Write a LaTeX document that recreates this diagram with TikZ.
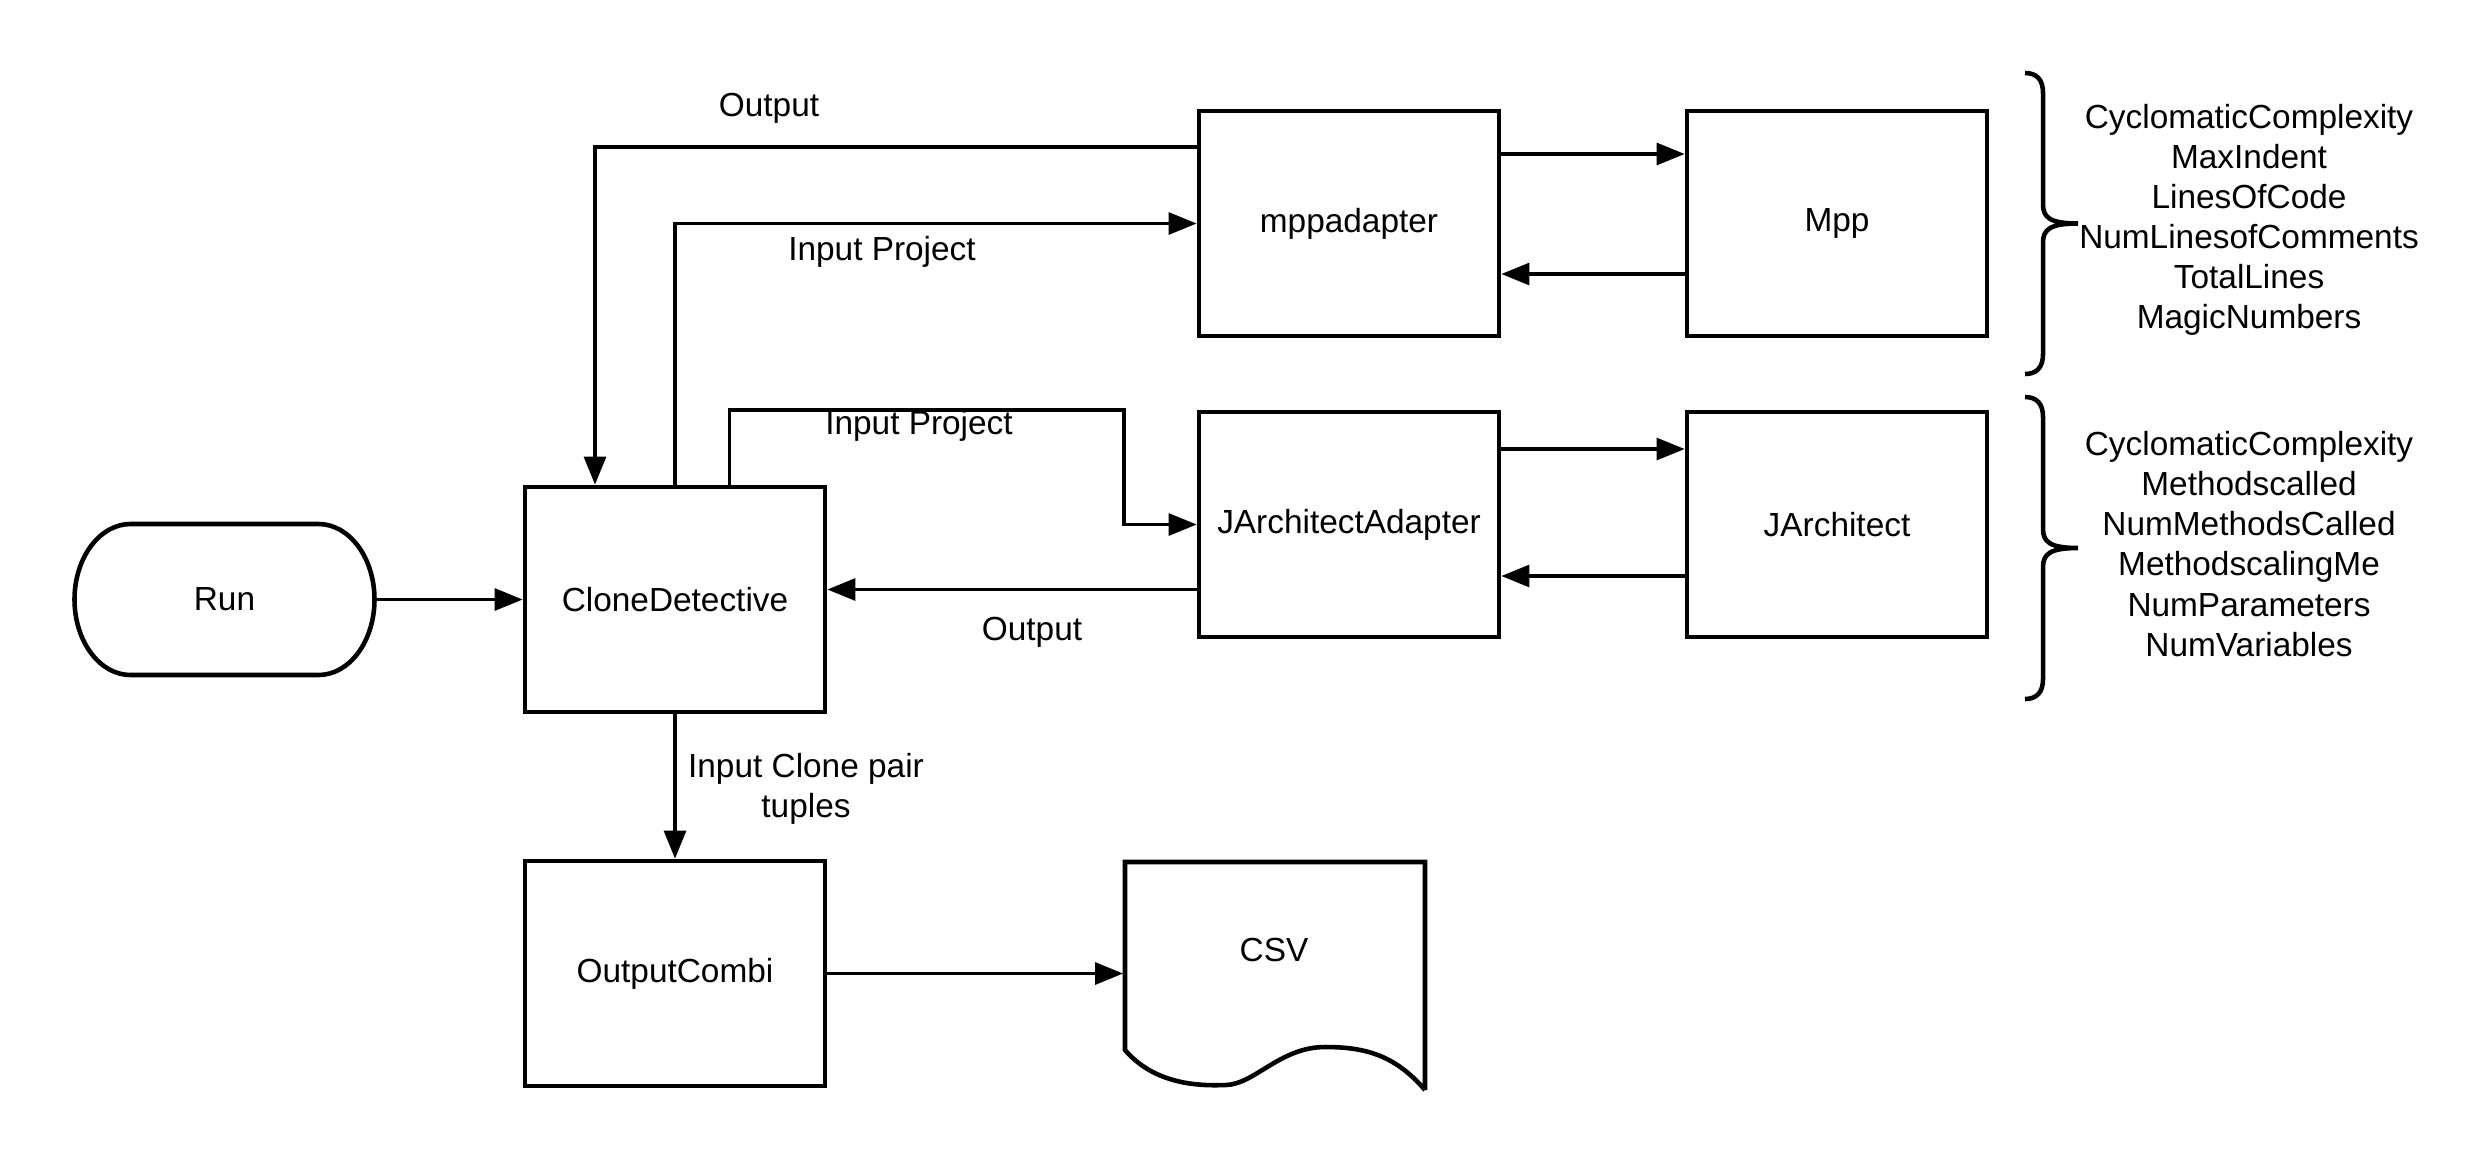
\documentclass[tikz,border=0pt]{standalone}
\usepackage{fontspec}
\setmainfont{Liberation Sans}
\usetikzlibrary{arrows.meta}

\begin{document}
\begin{tikzpicture}[line width=1.05pt,every node/.style={inner sep=2pt,font=\fontsize{9.5}{11.4}\selectfont},
    >={Triangle[length=8pt,width=6.2pt]},
    box/.style={draw,line width=1.3pt,minimum width=3cm,minimum height=2.25cm},
    term/.style={outer sep=0pt,minimum width=3cm,minimum height=1.51cm}]
  \useasboundingbox(0,0)rectangle(24.75,-11.63);
  % nodes
  \node[term](run)at(2.245,-5.995){Run};
  \draw[line width=1.3pt]([xshift=5.6mm]run.north west)--([xshift=-5.6mm]run.north east)
    arc[start angle=90,end angle=-90,x radius=5.6mm,y radius=7.55mm]
    --([xshift=5.6mm]run.south west)
    arc[start angle=270,end angle=90,x radius=5.6mm,y radius=7.55mm]--cycle;
  \node[box](cd)at(6.75,-5.995){CloneDetective};
  \node[box](mppa)at(13.49,-2.235){mppadapter};
  \node[box](mpp)at(18.37,-2.235){Mpp};
  \node[box](jaa)at(13.49,-5.245){JArchitectAdapter};
  \node[box](ja)at(18.37,-5.245){JArchitect};
  \node[box](oc)at(6.75,-9.735){OutputCombi};
  \node[minimum width=3cm,minimum height=2.28cm](csv)at(12.75,-9.76){};
  \draw[line width=1.3pt](14.25,-10.9)--(14.25,-8.62)--(11.25,-8.62)--(11.25,-10.5)
    ..controls(11.55,-10.85)and(12.0,-10.86)..(12.26,-10.85)
    ..controls(12.55,-10.84)and(12.8,-10.47)..(13.25,-10.47)
    ..controls(13.65,-10.47)and(13.95,-10.55)..(14.25,-10.9);
  \node(csvlbl)at(12.74,-9.5){CSV};
  % connectors
  \draw[->](run)--(cd);
  \draw[->]([yshift=7.65mm]mppa.west)-|([xshift=-8mm]cd.north);
  \draw[->](cd.north)|-(mppa.west);
  \draw[->]([xshift=5.45mm]cd.north)|-(11.24,-4.1)|-(jaa.west);
  \draw[->]([yshift=-6.5mm]jaa.west)--([yshift=-6.5mm]jaa.west-|cd.east);
  \draw[->]([yshift=6.95mm]mppa.east)--([yshift=6.95mm]mppa.east-|mpp.west);
  \draw[->]([yshift=-5.05mm]mpp.west)--([yshift=-5.05mm]mpp.west-|mppa.east);
  \draw[->]([yshift=7.55mm]jaa.east)--([yshift=7.55mm]jaa.east-|ja.west);
  \draw[->]([yshift=-5.15mm]ja.west)--([yshift=-5.15mm]ja.west-|jaa.east);
  \draw[->](cd)--(oc);
  \draw[->](oc.east)--(oc.east-|csv.west);
  % labels
  \node(out1)at(7.69,-1.085){Output};
  \node(in1)at(8.82,-2.515){Input Project};
  \node(in2)at(9.19,-4.26){Input Project};
  \node(out2)at(10.32,-6.32){Output};
  \node[align=center](inpair)at(8.06,-7.885){Input Clone pair\\tuples};
  % metric lists
  \foreach \t/\m/\b in {0.73/2.235/3.74,3.97/5.48/6.99}
    \draw[line width=1.3pt](20.25,-\t)..controls(20.37,-\t)and(20.43,-\t-0.07)..(20.43,-\t-0.2)
      --(20.43,-\m+0.19)..controls(20.43,-\m+0.06)and(20.5,-\m)..(20.78,-\m)
      ..controls(20.5,-\m)and(20.43,-\m-0.06)..(20.43,-\m-0.19)
      --(20.43,-\b+0.2)..controls(20.43,-\b+0.07)and(20.37,-\b)..(20.25,-\b);
  \node[align=center](mlist)at(22.49,-2.2){CyclomaticComplexity\\MaxIndent\\LinesOfCode\\
    NumLinesofComments\\TotalLines\\MagicNumbers};
  \node[align=center](jlist)at(22.49,-5.44){CyclomaticComplexity\\Methodscalled\\
    NumMethodsCalled\\MethodscalingMe\\NumParameters\\NumVariables};
\end{tikzpicture}
\end{document}
